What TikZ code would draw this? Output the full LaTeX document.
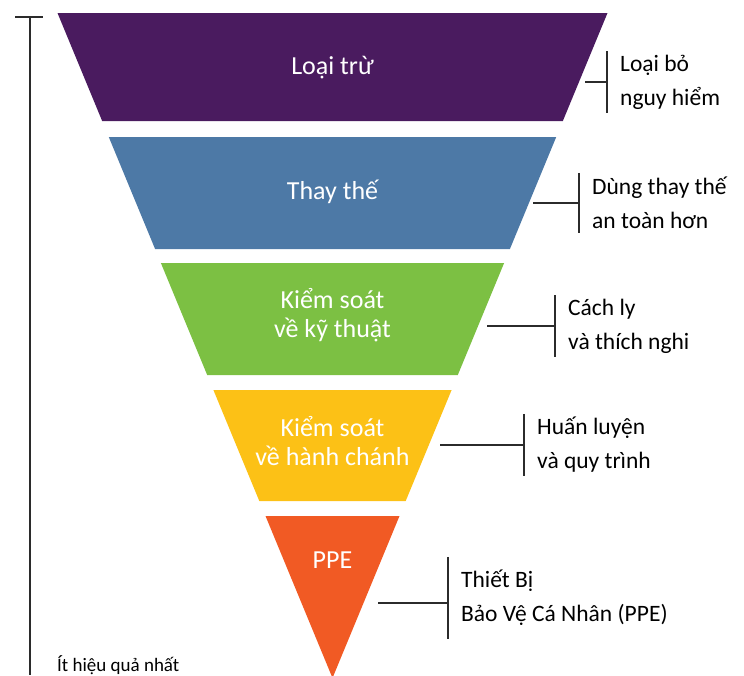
\documentclass[tikz,border=0pt]{standalone}
\usepackage{fontspec}
\setmainfont{Carlito}
\definecolor{elimcol}{HTML}{4A1B5F}
\definecolor{substcol}{HTML}{4D79A6}
\definecolor{engcol}{HTML}{7CC043}
\definecolor{admcol}{HTML}{FCC116}
\definecolor{ppecol}{HTML}{F15A24}
\definecolor{linecol}{HTML}{2B2B2B}
\begin{document}
\begin{tikzpicture}[x=1pt,y=-1pt,
  bandtext/.style={text=white,font=\fontsize{26}{29}\selectfont,align=center},
  sidetext/.style={anchor=west,font=\fontsize{23.5}{34}\selectfont,align=left,inner xsep=13pt,minimum height=60pt},
  bracket/.style={draw=linecol,line width=1.6pt}]
\useasboundingbox (0,0) rectangle (744,675);
\foreach \i/\ya/\yb/\c in {1/13/121/elimcol,2/137/249/substcol,3/263/375/engcol,4/390/501/admcol,5/516/678/ppecol} {
  \pgfmathsetmacro\wa{275-0.41353*(\ya-13)}
  \pgfmathsetmacro\wb{275-0.41353*(\yb-13)}
  \fill[\c] (332.5-\wa,\ya) -- (332.5+\wa,\ya) -- (332.5+\wb,\yb) -- (332.5-\wb,\yb) -- cycle;
}
\node[bandtext] (elim) at (332.5,68) {Loại trừ};
\node[bandtext] (subst) at (332.5,192) {Thay thế};
\node[bandtext] (eng) at (332.5,315) {Kiểm soát\\về kỹ thuật};
\node[bandtext] (adm) at (332.5,441) {Kiểm soát\\về hành chánh};
\node[bandtext] (ppe) at (332.5,560) {PPE};

\node[sidetext] (elimnote) at (607,82) {Loại bỏ\\nguy hiểm};
\node[sidetext] (substnote) at (579,203) {Dùng thay thế\\an toàn hơn};
\node[sidetext] (engnote) at (555,326) {Cách ly\\và thích nghi};
\node[sidetext] (admnote) at (524,445) {Huấn luyện\\và quy trình};
\node[sidetext,minimum height=82pt] (ppenote) at (448,598) {Thiết Bị\\Bảo Vệ Cá Nhân (PPE)};
\foreach \n/\x/\y in {elimnote/585/82,substnote/533/203,engnote/487/326,admnote/440/445,ppenote/378/603} {
  \coordinate (\n-s) at (\x,\y);
  \draw[bracket] (\n.north west) -- (\n.south west);
  \draw[bracket] (\n-s) -- (\n-s -| \n.west);
}

\coordinate (tickl) at (15,17);
\coordinate (tickr) at (43,17);
\coordinate (axtop) at (30,17);
\coordinate (axbot) at (30,675);
\draw[bracket] (tickl) -- (tickr);
\draw[bracket] (axtop) -- (axbot);
\node[anchor=base west,inner sep=0pt,font=\fontsize{19}{19}\selectfont] (least) at (57,671) {Ít hiệu quả nhất};
\end{tikzpicture}
\end{document}
